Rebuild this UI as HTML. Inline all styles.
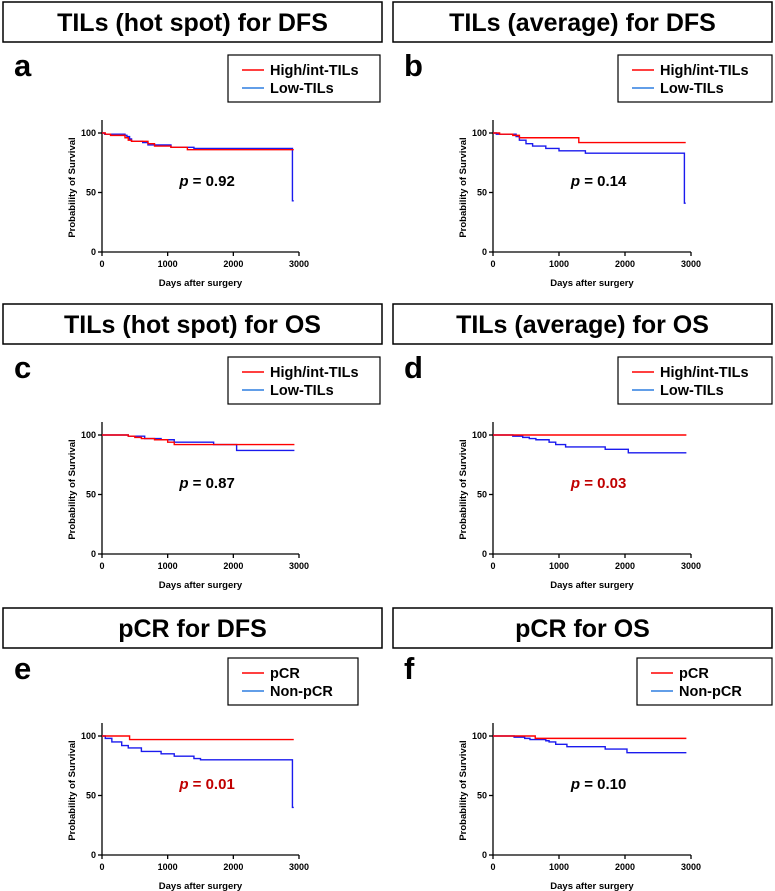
<!DOCTYPE html>
<html><head><meta charset="utf-8"><style>
html,body{margin:0;padding:0;background:#fff;}
svg{display:block;font-family:"Liberation Sans",Arial,sans-serif;}
</style></head><body>
<svg id="fig" width="775" height="891" viewBox="0 0 775 891"></svg>
<script>
// Data (days, survival %)
const xTicks = [0, 1000, 2000, 3000];
const yTicks = [0, 50, 100];
const titles = ["TILs (hot spot) for DFS","TILs (average) for DFS","TILs (hot spot) for OS","TILs (average) for OS","pCR for DFS","pCR for OS"];
const letters = ["a","b","c","d","e","f"];
const pValues = ["0.92","0.14","0.87","0.03","0.01","0.10"];
const pSignificant = [false,false,false,true,true,false];
const legendA = ["High/int-TILs","High/int-TILs","High/int-TILs","High/int-TILs","pCR","pCR"];
const legendB = ["Low-TILs","Low-TILs","Low-TILs","Low-TILs","Non-pCR","Non-pCR"];
const redA = [[0,100],[50,99],[130,98],[350,96],[400,94],[450,93],[700,91],[800,89],[1050,88],[1300,86],[2920,86]];
const blueA = [[0,100],[40,99],[350,98],[380,97],[420,95],[450,93],[620,92],[700,90],[1050,88],[1400,87],[2900,87],[2900,43],[2920,43]];
const redB = [[0,100],[100,99],[300,98],[400,96],[1300,92],[2920,92]];
const blueB = [[0,100],[50,99],[350,97],[400,94],[500,91],[600,89],[800,87],[1000,85],[1400,83],[2900,83],[2900,41],[2920,41]];
const redC = [[0,100],[400,99],[500,98],[600,97],[800,96],[1000,94],[1100,92],[2930,92]];
const blueC = [[0,100],[400,99],[650,97],[900,96],[1100,94],[1700,92],[2050,87],[2930,87]];
const redD = [[0,100],[2930,100]];
const blueD = [[0,100],[300,99],[450,98],[550,97],[650,96],[850,94],[950,92],[1100,90],[1700,88],[2050,85],[2930,85]];
const redE = [[0,100],[420,97],[2920,97]];
const blueE = [[0,100],[50,98],[150,95],[300,92],[400,90],[600,87],[900,85],[1100,83],[1400,81],[1500,80],[2900,80],[2900,40],[2920,40]];
const redF = [[0,100],[640,98],[2930,98]];
const blueF = [[0,100],[320,99],[480,98],[560,97],[800,96],[850,95],[950,93],[1120,91],[1700,89],[2030,86],[2930,86]];
const reds = [redA,redB,redC,redD,redE,redF];
const blues = [blueA,blueB,blueC,blueD,blueE,blueF];

const NS = "http://www.w3.org/2000/svg";
const svg = document.getElementById("fig");
function mk(tag, attrs, parent, text){
  const e = document.createElementNS(NS, tag);
  for (const k in attrs) e.setAttribute(k, attrs[k]);
  if (text !== undefined) e.textContent = text;
  (parent || svg).appendChild(e);
  return e;
}
const rowOff = [0, 302, 603];
const titleTop = [2, 304, 608];
const legendWidthLeft = [152, 152, 130];
const legendWidthRight = [154, 154, 135];

for (let i = 0; i < 6; i++) {
  const col = i % 2, row = Math.floor(i / 2);
  const off = rowOff[row];
  const g = mk("g", {});
  
  
  const bx = col ? 393 : 3;
  const tb = mk("rect", {x: bx, y: titleTop[row], width: 379, height: 40, fill: "#fff", stroke: "#000", "stroke-width": 1.5}, g);
  
  
  const tt = mk("text", {x: bx + 189.5, y: titleTop[row] + 29, "text-anchor": "middle", "font-size": 25, "font-weight": "bold"}, g, titles[i]);
  
  
  const lt = mk("text", {x: bx + 11, y: off + 76, "font-size": 31, "font-weight": "bold"}, g, letters[i]);
  
  
  const lw = col ? legendWidthRight[row] : legendWidthLeft[row];
  const lx = col ? 772 - lw : 228;
  const lg = mk("g", {}, g);
  
  
  mk("rect", {x: lx, y: off + 55, width: lw, height: 47, fill: "#fff", stroke: "#000", "stroke-width": 1.2}, lg);
  mk("line", {x1: lx + 14, x2: lx + 36, y1: off + 70, y2: off + 70, stroke: "#ff0000", "stroke-width": 1.5}, lg);
  mk("line", {x1: lx + 14, x2: lx + 36, y1: off + 88, y2: off + 88, stroke: "#2f7fe0", "stroke-width": 1.5}, lg);
  const la = mk("text", {x: lx + 42, y: off + 75, "font-size": 14.5, "font-weight": "bold"}, lg, legendA[i]);
  
  
  const lb = mk("text", {x: lx + 42, y: off + 93, "font-size": 14.5, "font-weight": "bold"}, lg, legendB[i]);
  
  
  const ax0 = col ? 493 : 102, ax1 = col ? 691 : 299;
  const y0 = off + 252, y100 = off + 133;
  const X = d => ax0 + (ax1 - ax0) * d / 3000;
  const Y = v => y0 + (y100 - y0) * v / 100;
  const axes = mk("g", {stroke: "#000", "stroke-width": 1.3, fill: "none"}, g);
  
  
  mk("line", {x1: ax0, x2: ax0, y1: off + 120, y2: y0}, axes);
  mk("line", {x1: ax0, x2: ax1, y1: y0, y2: y0}, axes);
  xTicks.forEach(t => {
    mk("line", {x1: X(t), x2: X(t), y1: y0, y2: y0 + 4}, axes);
    const tx = mk("text", {x: X(t), y: y0 + 15, "text-anchor": "middle", "font-size": 9, "font-weight": "bold", fill: "#000", stroke: "none"}, g, String(t));
    
    
  });
  yTicks.forEach(t => {
    mk("line", {x1: ax0 - 4, x2: ax0, y1: Y(t), y2: Y(t)}, axes);
    const ty = mk("text", {x: ax0 - 6, y: Y(t) + 3, "text-anchor": "end", "font-size": 9, "font-weight": "bold"}, g, String(t));
    
    
  });
  const xl = mk("text", {x: (ax0 + ax1) / 2, y: off + 286, "text-anchor": "middle", "font-size": 9.5, "font-weight": "bold"}, g, "Days after surgery");
  
  
  const yl = mk("text", {x: 0, y: 0, transform: `translate(${ax0 - 27},${(y0 + y100) / 2 - 5}) rotate(-90)`, "text-anchor": "middle", "font-size": 9.5, "font-weight": "bold"}, g, "Probability of Survival");
  
  
  function stepPath(pts) {
    let d = `M${X(pts[0][0])},${Y(pts[0][1])}`;
    for (let k = 1; k < pts.length; k++) {
      d += ` H${X(pts[k][0])} V${Y(pts[k][1])}`;
    }
    return d;
  }
  const bl = mk("path", {d: stepPath(blues[i]), fill: "none", stroke: "#1a1aee", "stroke-width": 1.4}, g);
  
  
  const rd = mk("path", {d: stepPath(reds[i]), fill: "none", stroke: "#ff0000", "stroke-width": 1.4}, g);
  
  
  const pc = pSignificant[i] ? "#c00000" : "#000";
  const pt = mk("text", {x: X(1600), y: off + 186, "text-anchor": "middle", "font-size": 15, "font-weight": "bold", fill: pc}, g);
  
  
  mk("tspan", {"font-style": "italic"}, pt, "p");
  mk("tspan", {}, pt, " = " + pValues[i]);
}
</script>
</body></html>
